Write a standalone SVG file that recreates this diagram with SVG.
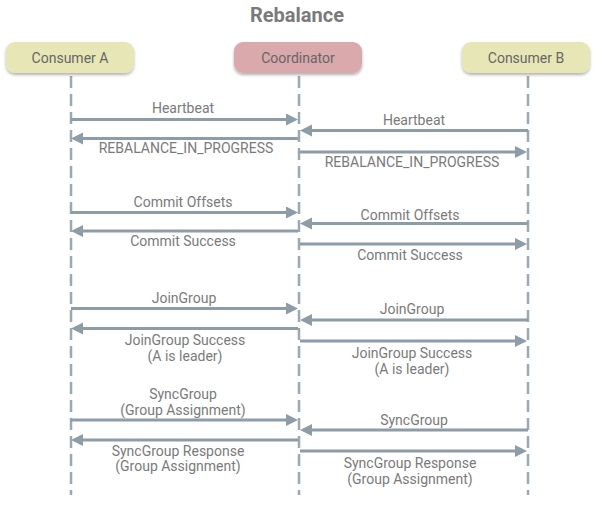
<svg xmlns="http://www.w3.org/2000/svg" width="594" height="505" viewBox="0 0 594 505">
<style>
.title{font-family:Roboto,"Liberation Sans",sans-serif;font-size:20px;font-weight:bold;fill:#7a7a7a;text-anchor:middle}
.nt{font-family:Roboto,"Liberation Sans",sans-serif;font-size:14px;fill:#666;text-anchor:middle;dominant-baseline:central}
.lb{font-family:Roboto,"Liberation Sans",sans-serif;font-size:14px;fill:#7a7a7a;text-anchor:middle;dominant-baseline:central}
.life{stroke:#9aa9b3;stroke-width:2.5;stroke-dasharray:12 6;fill:none}
.msg{stroke:#8d9ca6;stroke-width:3;fill:none;marker-end:url(#ah)}
.cons{fill:#e6e6b6}
.coord{fill:#d9a9ac}
</style>
<defs>
<marker id="ah" markerUnits="userSpaceOnUse" markerWidth="14" markerHeight="14" refX="4" refY="6" orient="auto">
<path d="M0,0 L12,6 L0,12 z" fill="#8d9ca6"/>
</marker>
<filter id="sh" x="-10%" y="-20%" width="120%" height="150%">
<feDropShadow dx="0" dy="2" stdDeviation="1.5" flood-color="#000" flood-opacity="0.3"/>
</filter>
</defs>
<text class="title" x="297" y="22">Rebalance</text>
<g id="lifelines">
<line class="life" x1="71" y1="76" x2="71" y2="495"/>
<line class="life" x1="299" y1="76" x2="299" y2="495"/>
<line class="life" x1="528" y1="76" x2="528" y2="495"/>
</g>
<g id="consumer-a">
<rect class="cons" x="6" y="42" width="128" height="31" rx="9" filter="url(#sh)"/>
<text class="nt" x="70" y="57.5">Consumer A</text>
</g>
<g id="coordinator">
<rect class="coord" x="234" y="42" width="128" height="31" rx="9" filter="url(#sh)"/>
<text class="nt" x="298" y="57.5">Coordinator</text>
</g>
<g id="consumer-b">
<rect class="cons" x="462" y="42" width="128" height="31" rx="9" filter="url(#sh)"/>
<text class="nt" x="526" y="57.5">Consumer B</text>
</g>
<g id="connectors">
<line class="msg" x1="71" y1="119.5" x2="290" y2="119.5"/>
<line class="msg" x1="528" y1="130.5" x2="308" y2="130.5"/>
<line class="msg" x1="298" y1="138.5" x2="79" y2="138.5"/>
<line class="msg" x1="300" y1="152" x2="519" y2="152"/>

<line class="msg" x1="71" y1="212.5" x2="290" y2="212.5"/>
<line class="msg" x1="528" y1="223.5" x2="308" y2="223.5"/>
<line class="msg" x1="298" y1="231" x2="79" y2="231"/>
<line class="msg" x1="300" y1="244" x2="519" y2="244"/>

<line class="msg" x1="71" y1="308.5" x2="290" y2="308.5"/>
<line class="msg" x1="528" y1="320" x2="308" y2="320"/>
<line class="msg" x1="298" y1="328.5" x2="79" y2="328.5"/>
<line class="msg" x1="300" y1="341" x2="519" y2="341"/>

<line class="msg" x1="71" y1="420" x2="290" y2="420"/>
<line class="msg" x1="528" y1="430" x2="308" y2="430"/>
<line class="msg" x1="298" y1="440" x2="79" y2="440"/>
<line class="msg" x1="300" y1="451" x2="519" y2="451"/>
</g>
<g id="labels">
<text class="lb" x="183" y="108">Heartbeat</text>
<text class="lb" x="414" y="120">Heartbeat</text>
<text class="lb" x="186" y="148">REBALANCE_IN_PROGRESS</text>
<text class="lb" x="412" y="162">REBALANCE_IN_PROGRESS</text>

<text class="lb" x="183" y="201.5">Commit Offsets</text>
<text class="lb" x="410" y="215">Commit Offsets</text>
<text class="lb" x="183" y="241">Commit Success</text>
<text class="lb" x="410" y="255">Commit Success</text>

<text class="lb" x="184" y="298">JoinGroup</text>
<text class="lb" x="412" y="309">JoinGroup</text>
<text class="lb" x="185" y="340">JoinGroup Success</text>
<text class="lb" x="185" y="356">(A is leader)</text>
<text class="lb" x="412" y="352.5">JoinGroup Success</text>
<text class="lb" x="412" y="368.5">(A is leader)</text>

<text class="lb" x="183" y="394">SyncGroup</text>
<text class="lb" x="183" y="409.5">(Group Assignment)</text>
<text class="lb" x="414" y="420">SyncGroup</text>
<text class="lb" x="178" y="451">SyncGroup Response</text>
<text class="lb" x="178" y="466">(Group Assignment)</text>
<text class="lb" x="410" y="463">SyncGroup Response</text>
<text class="lb" x="410" y="478.5">(Group Assignment)</text>
</g>
</svg>
